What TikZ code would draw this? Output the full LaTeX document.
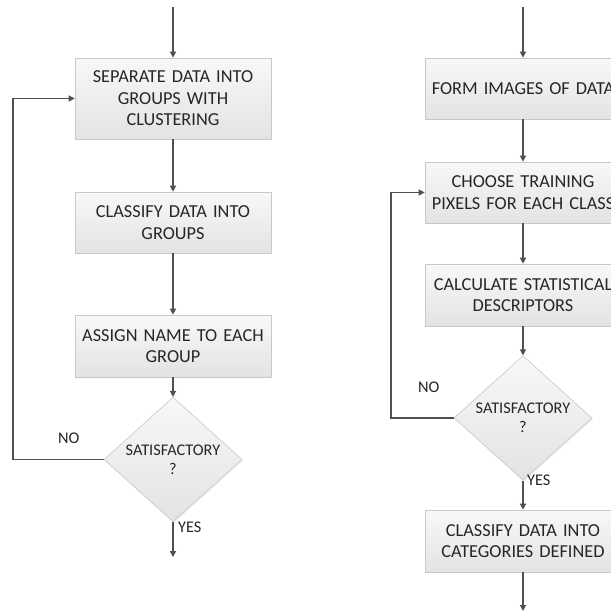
\documentclass[tikz,border=0pt]{standalone}
\usepackage{fontspec}
\setmainfont{Carlito}
\usetikzlibrary{arrows.meta,shapes.geometric,shadows}
\definecolor{linec}{HTML}{505050}
\definecolor{textc}{HTML}{262626}
\definecolor{edgec}{HTML}{C8C8C8}
\definecolor{filltop}{HTML}{F8F8F8}
\definecolor{fillbot}{HTML}{E3E3E3}
\tikzset{
  procbox/.style={rectangle, draw=edgec, line width=0.6pt,
    top color=filltop, bottom color=fillbot,
    drop shadow={opacity=0.12, shadow xshift=1.2pt, shadow yshift=-1.2pt},
    minimum width=196pt, text width=190pt, align=center,
    font=\fontsize{18.3}{21.5}\selectfont, text=textc, inner sep=0pt},
  decision/.style={diamond, draw=edgec, line width=0.6pt,
    top color=filltop, bottom color=fillbot,
    drop shadow={opacity=0.12, shadow xshift=1.2pt, shadow yshift=-1.2pt},
    minimum width=138pt, minimum height=103pt, inner sep=0pt, align=center,
    font=\fontsize{16.3}{19.3}\selectfont, text=textc},
  flow/.style={draw=linec, line width=1.3pt, -{Triangle[length=6pt,width=6pt]}},
  lbl/.style={font=\fontsize{16.3}{18}\selectfont, text=textc, inner sep=0pt}
}
\begin{document}
\begin{tikzpicture}[x=1pt,y=-1pt]
  \useasboundingbox (0,0) rectangle (611,611);
  \fill[white] (0,0) rectangle (611,611);

  % left chain: clustering
  \node[procbox, minimum height=81pt] (b1) at (173,98.5) {SEPARATE DATA INTO\\GROUPS WITH\\CLUSTERING};
  \node[procbox, minimum height=61pt] (b2) at (173,222.5) {CLASSIFY DATA INTO\\GROUPS};
  \node[procbox, minimum height=62pt] (b3) at (173,346) {ASSIGN NAME TO EACH\\GROUP};
  \node[decision] (d1) at (173,459.5) {SATISFACTORY\\?};
  \coordinate (lin) at (173,7);
  \coordinate (lout) at (173,557);
  \coordinate (lturn) at (13,459.5);

  \draw[flow] (lin) -- (b1.north);
  \draw[flow] (b1.south) -- (b2.north);
  \draw[flow] (b2.south) -- (b3.north);
  \draw[flow] (b3.south) -- (d1.north);
  \draw[flow] (d1.south) -- (lout);
  \draw[flow] (d1.west) -- (lturn) |- (b1.west);
  \node[lbl, anchor=west] (lno) at (58,438) {NO};
  \node[lbl, anchor=west] (lyes) at (178,527) {YES};

  % right chain: supervised classification
  \node[procbox, minimum height=61pt] (r1) at (523,88.5) {FORM IMAGES OF DATA};
  \node[procbox, minimum height=61pt] (r2) at (523,192.5) {CHOOSE TRAINING\\PIXELS FOR EACH CLASS};
  \node[procbox, minimum height=62pt] (r3) at (523,295) {CALCULATE STATISTICAL\\DESCRIPTORS};
  \node[decision, minimum height=102pt] (d2) at (523,418) {SATISFACTORY\\?};
  \node[procbox, minimum height=62pt] (r4) at (523,541) {CLASSIFY DATA INTO\\CATEGORIES DEFINED};
  \coordinate (rin) at (523,7);
  \coordinate (rout) at (523,611);
  \coordinate (rturn) at (391,418);

  \draw[flow] (rin) -- (r1.north);
  \draw[flow] (r1.south) -- (r2.north);
  \draw[flow] (r2.south) -- (r3.north);
  \draw[flow] (r3.south) -- (d2.north);
  \draw[flow] (d2.south) -- (r4.north);
  \draw[flow] (r4.south) -- (rout);
  \draw[flow] (d2.west) -- (rturn) |- (r2.west);
  \node[lbl, anchor=west] (rno) at (418,387) {NO};
  \node[lbl, anchor=west] (ryes) at (527,480) {YES};
\end{tikzpicture}
\end{document}
